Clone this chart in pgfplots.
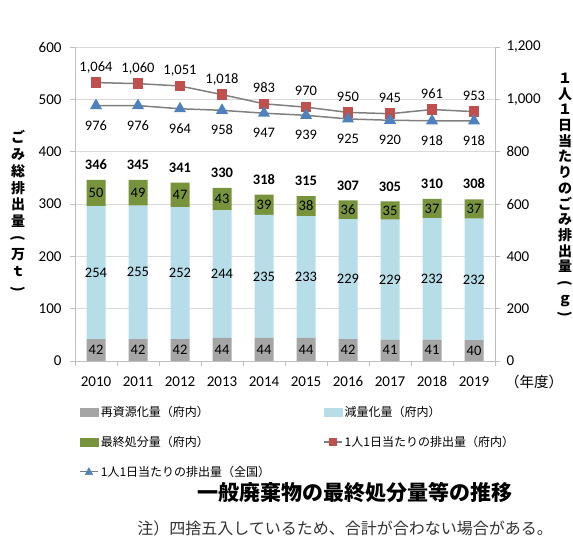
\documentclass[border=0pt]{standalone}
\usepackage{pgfplots}
\pgfplotsset{compat=1.18}
\usepackage{pgfplotstable}
\usepackage{fontspec}
\usepackage{graphicx}
\setmainfont{Carlito}
\newfontfamily\cjk{Noto Sans CJK JP}

\definecolor{recyc}{HTML}{A5A5A5}
\definecolor{reduc}{HTML}{B7DEE8}
\definecolor{finalc}{HTML}{77933C}
\definecolor{redm}{HTML}{C0504D}
\definecolor{bluem}{HTML}{4F81BD}
\definecolor{linec}{HTML}{7F7F7F}
\definecolor{gridc}{HTML}{D9D9D9}
\definecolor{axisc}{HTML}{BFBFBF}

% g: recycled, b: reduced, f: final disposal, t: total (10^4 t)
% r: per person per day (prefecture), n: per person per day (national) in g
\pgfplotstableread{
x g b f t r n
0 42 254 50 346 1064 976
1 42 255 49 345 1060 976
2 42 252 47 341 1051 964
3 44 244 43 330 1018 958
4 44 235 39 318 983 947
5 44 233 38 315 970 939
6 42 229 36 307 950 925
7 41 229 35 305 945 920
8 41 232 37 310 961 918
9 40 232 37 308 953 918
}\waste

\pgfplotsset{
  frame/.style={
    scale only axis, width=420pt, height=314pt,
    at={(75pt,185pt)}, anchor=south west,
    xmin=-0.5, xmax=9.5,
    tick label style={font=\fontsize{15}{17}\selectfont},
    /pgf/number format/assume math mode=true,
    /pgf/number format/1000 sep={,},
    tick align=outside, major tick length=5pt,
    tick style={color=axisc, line width=0.8pt},
    axis line style={color=axisc, line width=0.8pt, -},
  },
}
\tikzset{lbl/.style={font=\fontsize{14.5}{16}\selectfont, inner sep=0pt, text=black}}

\begin{document}
\begin{tikzpicture}
\useasboundingbox (0,0) rectangle (573pt,546pt);

% stacked bars
\begin{axis}[frame, ybar stacked, bar width=19pt,
  ymin=0, ymax=600, ytick={0,100,...,600},
  yticklabel style={xshift=-5pt},
  axis x line*=bottom, axis y line*=left,
  ymajorgrids, grid style={color=gridc, line width=0.8pt},
  xtick={-0.5,0.5,...,9.5}, xticklabels={},
]
\addplot[fill=recyc, draw=none] table[x=x, y=g] {\waste};
\addplot[fill=reduc, draw=none] table[x=x, y=b] {\waste};
\addplot[fill=finalc, draw=none] table[x=x, y=f] {\waste};
\end{axis}

% value labels, year labels and legend
\begin{axis}[frame, ymin=0, ymax=600,
  axis y line=none, axis x line*=bottom,
  x axis line style={draw=none}, xtick style={draw=none},
  xtick={0,...,9},
  xticklabels={2010,2011,2012,2013,2014,2015,2016,2017,2018,2019},
  xticklabel style={yshift=-7pt},
  point meta=explicit, nodes near coords,
  legend columns=2, legend cell align=left,
  legend style={at={(0.01,-0.137)}, anchor=north west, draw=none, fill=none,
    inner sep=0pt, row sep=14pt, font=\cjk\fontsize{12}{14}\selectfont,
    /tikz/column 2/.style={column sep=51pt}},
]
\addlegendimage{legend image code/.code={\fill[recyc] (0pt,-4pt) rectangle (18pt,4pt);}}
\addlegendentry{再資源化量（府内）}
\addlegendimage{legend image code/.code={\fill[reduc] (0pt,-4pt) rectangle (18pt,4pt);}}
\addlegendentry{減量化量（府内）}
\addlegendimage{legend image code/.code={\fill[finalc] (0pt,-4pt) rectangle (18pt,4pt);}}
\addlegendentry{最終処分量（府内）}
\addlegendimage{legend image code/.code={\draw[linec, line width=1.5pt] (0pt,0pt) -- (18pt,0pt);
  \fill[redm] (5pt,-3.5pt) rectangle (12pt,3.5pt);}}
\addlegendentry{1人1日当たりの排出量（府内）}
\addlegendimage{legend image code/.code={\draw[linec, line width=1.5pt] (0pt,0pt) -- (18pt,0pt);
  \fill[bluem] (5pt,-3pt) -- (12.5pt,-3pt) -- (8.75pt,4pt) -- cycle;}}
\addlegendentry{1人1日当たりの排出量（全国）}

\addplot[draw=none, mark=none, forget plot, every node near coord/.append style={lbl, anchor=center}]
  table[x=x, y expr=\thisrow{g}/2, meta=g] {\waste};
\addplot[draw=none, mark=none, forget plot, every node near coord/.append style={lbl, anchor=center}]
  table[x=x, y expr=\thisrow{g}+\thisrow{b}/2, meta=b] {\waste};
\addplot[draw=none, mark=none, forget plot, every node near coord/.append style={lbl, anchor=center}]
  table[x=x, y expr=\thisrow{g}+\thisrow{b}+\thisrow{f}/2, meta=f] {\waste};
\addplot[draw=none, mark=none, forget plot, every node near coord/.append style={lbl, font=\bfseries\fontsize{14.5}{16}\selectfont, anchor=base, yshift=10.3pt}]
  table[x=x, y expr=\thisrow{g}+\thisrow{b}+\thisrow{f}, meta=t] {\waste};
\end{axis}

% per-person lines
\begin{axis}[frame, ymin=0, ymax=1200, ytick={0,200,...,1200},
  yticklabel style={xshift=3pt},
  axis y line*=right, axis x line=none,
  nodes near coords,
]
\addplot[linec, line width=1.5pt, mark=square*, mark size=4.5pt,
  mark options={draw=redm, fill=redm},
  every node near coord/.append style={lbl, anchor=base, yshift=11.4pt}]
  table[x=x, y=r] {\waste};
\addplot[linec, line width=1.5pt, mark=triangle*, mark size=5.5pt,
  mark options={draw=bluem, fill=bluem},
  every node near coord/.append style={lbl, anchor=base, yshift=-24.6pt}]
  table[x=x, y=n] {\waste};
\end{axis}

\node[font=\cjk\bfseries\fontsize{14}{16.7}\selectfont, align=center, inner sep=0pt]
  at (18pt,334pt) {ご\\み\\総\\排\\出\\量\\\rotatebox[origin=c]{-90}{(}\\万\\ｔ\\\rotatebox[origin=c]{-90}{)}};
\node[font=\cjk\bfseries\fontsize{14}{15.7}\selectfont, align=center, inner sep=0pt]
  at (565pt,350pt) {１\\人\\１\\日\\当\\た\\り\\の\\ご\\み\\排\\出\\量\\\rotatebox[origin=c]{-90}{(}\\ｇ\\\rotatebox[origin=c]{-90}{)}};
\node[font=\cjk\fontsize{14.5}{16}\selectfont, inner sep=0pt] at (534pt,164pt) {（年度）};
\node[font=\cjk\bfseries\fontsize{21}{24}\selectfont, inner sep=0pt] at (355pt,53pt) {一般廃棄物の最終処分量等の推移};
\node[font=\cjk\fontsize{16}{18}\selectfont, text=black!80, inner sep=0pt, anchor=east] at (553pt,18pt) {注）四捨五入しているため、合計が合わない場合がある。};
\end{tikzpicture}
\end{document}
